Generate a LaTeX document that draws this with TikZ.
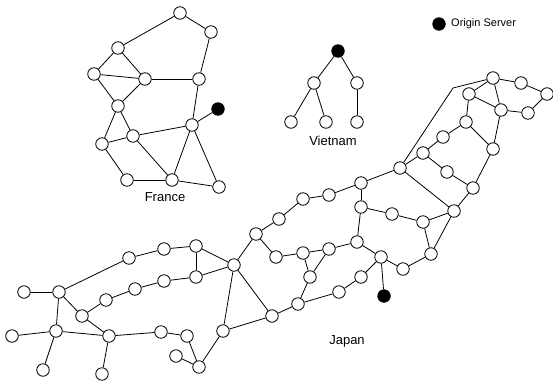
\documentclass[tikz,border=0pt]{standalone}
\usepackage{fontspec}
\setmainfont{Liberation Sans}
\begin{document}
\begin{tikzpicture}[x=1pt,y=-1pt,
  router/.style={circle,draw,fill=white,minimum size=12.5pt,inner sep=0pt,line width=0.8pt},
  origin/.style={circle,draw,fill=black,minimum size=12.5pt,inner sep=0pt,line width=0.8pt},
  link/.style={line width=0.8pt},
  region/.style={font=\fontsize{13}{15}\selectfont},
  legend/.style={font=\fontsize{11}{13}\selectfont,anchor=west,inner sep=0pt}]
\useasboundingbox (0,0) rectangle (553,383);

% ---------- legend ----------
\node[origin] (key) at (439,24) {};
\node[legend] (keytext) at (451,24) {Origin Server};

% ---------- France ----------
\node[router] (f1) at (180,13) {};
\node[router] (f2) at (211,32) {};
\node[router] (f3) at (118,48) {};
\node[router] (f4) at (94,74) {};
\node[router] (f5) at (145,79) {};
\node[router] (f6) at (199,79) {};
\node[router] (f7) at (118,106) {};
\node[origin] (fo) at (218,109) {};
\node[router] (f8) at (192,125) {};
\node[router] (f9) at (133,136) {};
\node[router] (f10) at (102,144) {};
\node[router] (f11) at (127,180) {};
\node[router] (f12) at (172,180) {};
\node[router] (f13) at (219,187) {};
\node[region] (france) at (165,197) {France};

\foreach \a/\b in {f1/f2,f1/f3,f2/f6,f3/f4,f3/f5,f4/f5,f4/f7,f5/f6,f5/f7,f6/f8,
  f8/fo,f7/f9,f7/f10,f9/f10,f9/f8,f9/f12,f10/f11,f11/f12,f12/f8,f12/f13,f8/f13}
  \draw[link] (\a) -- (\b);

% ---------- Vietnam ----------
\node[origin] (vo) at (338,51) {};
\node[router] (v1) at (314,83) {};
\node[router] (v2) at (357,83) {};
\node[router] (v3) at (291,122) {};
\node[router] (v4) at (326,122) {};
\node[router] (v5) at (357,122) {};
\node[region] (vietnam) at (333,141) {Vietnam};

\foreach \a/\b in {vo/v1,vo/v2,v1/v3,v1/v4,v2/v5}
  \draw[link] (\a) -- (\b);

% ---------- Japan: north-east ----------
\node[router] (j1) at (493,78) {};
\node[router] (j2) at (521,83) {};
\node[router] (j3) at (547,94) {};
\node[router] (j4) at (469,94) {};
\node[router] (j5) at (501,110) {};
\node[router] (j6) at (528,113) {};
\node[router] (j7) at (466,122) {};
\node[router] (j8) at (443,137) {};
\node[router] (j9) at (493,149) {};
\node[router] (j10) at (423,153) {};
\node[router] (j11) at (400,168) {};
\node[router] (j12) at (447,172) {};
\node[router] (j13) at (473,188) {};
\node[router] (j14) at (454,211) {};
\coordinate (bend) at (453,88);

% ---------- Japan: centre ----------
\node[router] (b) at (361,183) {};
\node[router] (c) at (329,195) {};
\node[router] (d) at (303,199) {};
\node[router] (e) at (279,219) {};
\node[router] (f) at (256,234) {};
\node[router] (g) at (361,207) {};
\node[router] (h) at (392,214) {};
\node[router] (i) at (423,222) {};
\node[router] (jj) at (431,254) {};
\node[router] (k) at (357,242) {};
\node[router] (l) at (329,249) {};
\node[router] (m) at (303,253) {};
\node[router] (n) at (276,257) {};
\node[router] (o) at (310,277) {};
\node[router] (p) at (381,257) {};
\node[router] (q) at (403,269) {};
\node[router] (r) at (361,277) {};
\node[router] (s) at (339,292) {};
\node[origin] (jo) at (384,296) {};
\node[router] (t) at (298,304) {};
\node[router] (u) at (272,316) {};
\node[router] (w) at (234,265) {};
\node[region] (japan) at (347,341) {Japan};

% ---------- Japan: south-west ----------
\node[router] (sb) at (196,246) {};
\node[router] (sc) at (164,249) {};
\node[router] (sd) at (129,258) {};
\node[router] (se) at (196,277) {};
\node[router] (sf) at (164,281) {};
\node[router] (sg) at (135,289) {};
\node[router] (sh) at (106,300) {};
\node[router] (si) at (82,316) {};
\node[router] (sj) at (59,292) {};
\node[router] (sk) at (24,292) {};
\node[router] (sl) at (56,331) {};
\node[router] (sm) at (12,336) {};
\node[router] (sn) at (43,370) {};
\node[router] (so) at (109,336) {};
\node[router] (sp) at (102,374) {};
\node[router] (sq) at (161,332) {};
\node[router] (sr) at (187,336) {};
\node[router] (ss) at (176,356) {};
\node[router] (st) at (199,367) {};
\node[router] (su) at (223,331) {};

\draw[link] (j11) -- (bend) -- (j1);
\foreach \a/\b in {j1/j2,j2/j3,j3/j6,j6/j5,j1/j5,j1/j4,j4/j5,j4/j7,j7/j8,j8/j10,
  j10/j11,j7/j9,j5/j9,j9/j13,j10/j12,j12/j13,j13/j14,j11/j14,
  j11/b,b/c,c/d,d/e,e/f,f/w,f/n,n/m,m/l,m/o,l/o,l/k,k/g,g/b,g/h,h/i,i/j14,
  i/jj,j14/jj,k/p,p/q,q/jj,p/r,r/s,s/t,o/t,t/u,w/u,p/jo,
  sk/sj,sj/sd,sd/sc,sc/sb,sb/w,sb/se,se/w,se/sf,sf/sg,sg/sh,sh/si,si/sj,
  sj/sl,sl/sm,sl/sn,si/so,sl/so,so/sp,so/sq,sq/sr,sr/st,ss/st,st/su,su/w,su/u}
  \draw[link] (\a) -- (\b);
\end{tikzpicture}
\end{document}
